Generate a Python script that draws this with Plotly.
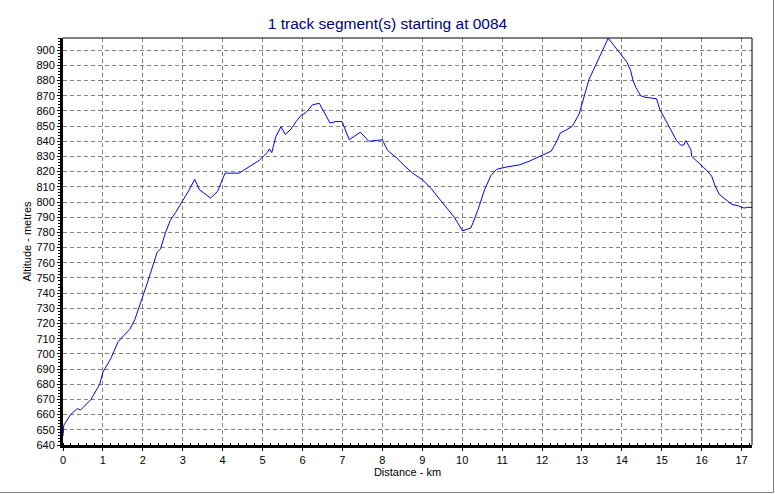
import plotly.graph_objects as go

title_text = "1 track segment(s) starting at 0084"
x_title = "Distance - km"
y_title = "Altitude - metres"

distance_km = [0.0, 0.02, 0.19, 0.36, 0.44, 0.56, 0.7, 0.92, 1.0, 1.2, 1.38, 1.52, 1.67, 1.8,
               1.94, 2.11, 2.25, 2.36, 2.44, 2.57, 2.69, 2.82, 3.0, 3.15, 3.3, 3.42, 3.7, 3.87,
               4.06, 4.41, 4.92, 5.13, 5.17, 5.23, 5.33, 5.46, 5.57, 5.71, 5.84, 5.96, 6.09,
               6.25, 6.42, 6.55, 6.69, 6.84, 6.99, 7.17, 7.3, 7.45, 7.66, 7.88, 8.0, 8.13, 8.34,
               8.55, 8.76, 9.01, 9.22, 9.43, 9.64, 9.8, 10.01, 10.22, 10.39, 10.56, 10.72,
               10.86, 11.1, 11.44, 11.69, 11.94, 12.23, 12.36, 12.46, 12.61, 12.76, 12.93,
               13.07, 13.18, 13.28, 13.45, 13.61, 13.66, 13.7, 13.86, 13.99, 14.13, 14.22,
               14.28, 14.35, 14.47, 14.58, 14.78, 14.87, 14.95, 15.05, 15.16, 15.27, 15.37,
               15.47, 15.55, 15.6, 15.69, 15.73, 15.75, 15.87, 16.0, 16.12, 16.25, 16.33,
               16.44, 16.58, 16.75, 16.92, 17.06, 17.15, 17.26]
altitude_m = [646, 653, 660, 664, 663, 666, 670, 680, 688, 697, 708, 712, 716, 722.6,
              733, 746.5, 758, 767, 769, 780, 788, 793, 801, 807.5, 815, 808, 802.6, 807,
              819, 819, 827.5, 833, 835, 832.5, 843, 849.5, 844.5, 848, 853, 857, 859,
              864, 865, 859, 852, 853, 853, 841, 843.5, 846, 840, 840.5, 841, 834, 829.5,
              824, 819, 814.5, 809, 802, 795.5, 790, 781, 783, 794.5, 808, 817.5,
              821.5, 823, 824.5, 827, 830, 833.5, 839.5, 845.5, 847.5, 850, 858,
              870, 881, 886.5, 896.5, 905.5, 908, 906.5, 901, 897, 892, 886.5,
              880, 875.5, 870, 869, 868.5, 868, 861, 856, 850.5, 845.5, 840.5,
              837.5, 837.5, 840.5, 836, 834.5, 830, 827, 824, 821, 817, 811,
              805, 802, 798.5, 797.5, 796, 796.5, 796.5]

x_range = [0, 17.26]
y_range = [640, 908]
x_ticks = list(range(0, 18))
y_ticks = list(range(640, 901, 10))

W, H = 775, 494
ML, MR, MT, MB = 63, 23, 38, 49
pw, ph = W - ML - MR, H - MT - MB

fig = go.Figure()
fig.add_trace(go.Scatter(x=distance_km, y=altitude_m, mode="lines",
                         line=dict(color="#0000FF", width=1), hoverinfo="skip"))

font = dict(family="Liberation Sans, Arial, sans-serif", size=11, color="#000000")
fig.update_layout(
    width=W, height=H,
    margin=dict(l=ML, r=MR, t=MT, b=MB),
    paper_bgcolor="#FFFFFF", plot_bgcolor="#FFFFFF",
    showlegend=False,
    font=font,
    title=dict(text=title_text, x=0.5, xref="container", xanchor="center",
               y=1 - 24 / H, yref="container", yanchor="middle",
               font=dict(family="Liberation Sans, Arial, sans-serif", size=15.5, color="#000080")),
)
fig.update_xaxes(range=x_range, tickvals=x_ticks, showgrid=True, gridcolor="#808080",
                 griddash="4px,3px", gridwidth=1, zeroline=False,
                 showline=True, linecolor="#000000", linewidth=3,
                 ticks="outside", ticklen=3, tickcolor="#000000",
                 minor=dict(dtick=0.2, ticks="inside", ticklen=2, tickcolor="#000000", showgrid=False),
                 tickfont=font, title=dict(text=x_title, font=font, standoff=4))
fig.update_yaxes(range=y_range, tickvals=y_ticks, showgrid=True, gridcolor="#808080",
                 griddash="4px,3px", gridwidth=1, zeroline=False,
                 showline=True, linecolor="#000000", linewidth=3,
                 ticks="outside", ticklen=3, tickcolor="#000000",
                 minor=dict(dtick=2, ticks="outside", ticklen=2, tickcolor="#000000", showgrid=False),
                 tickfont=font, title=dict(text=y_title, font=font, standoff=3))

# thin top and right frame
fig.add_shape(type="line", xref="paper", yref="paper", x0=0, x1=1, y0=1, y1=1,
              line=dict(color="#000000", width=1))
fig.add_shape(type="line", xref="paper", yref="paper", x0=1, x1=1, y0=0, y1=1,
              line=dict(color="#000000", width=1))
# gray window border at right and bottom
rx = (773.5 - ML) / pw
by = (H - MB - 492.5) / ph
fig.add_shape(type="line", xref="paper", yref="paper", x0=rx, x1=rx,
              y0=by, y1=(H - MT) / ph, line=dict(color="#808080", width=1))
fig.add_shape(type="line", xref="paper", yref="paper", x0=-ML / pw, x1=rx,
              y0=by, y1=by, line=dict(color="#808080", width=1))

fig.write_html("out.html")
